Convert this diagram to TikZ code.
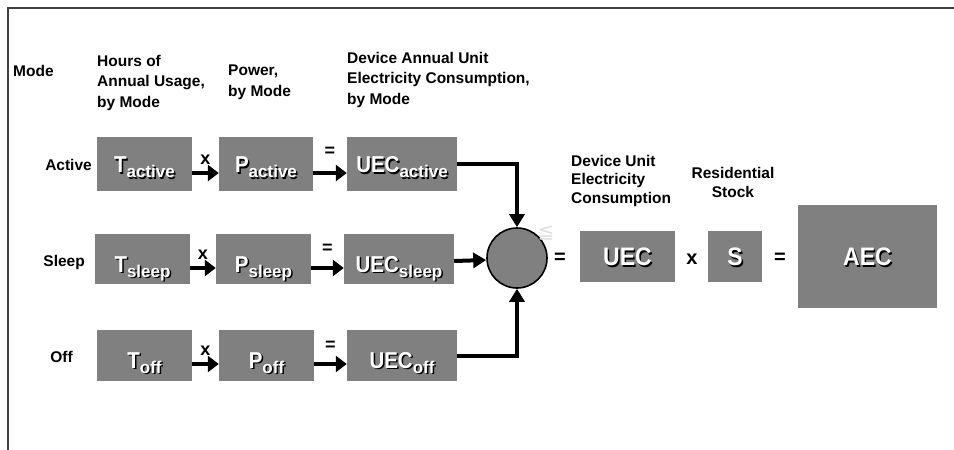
\documentclass[tikz,border=0pt]{standalone}
\usepackage{fontspec}
\setmainfont{Liberation Sans}
\newfontfamily\symfont{DejaVu Sans}
\usetikzlibrary{arrows.meta}
\definecolor{boxgray}{HTML}{808080}
\definecolor{framegray}{HTML}{404040}
\newcommand\shd[1]{\makebox[0pt][l]{\hspace{1.5pt}\raisebox{-1.5pt}{\textcolor{black}{#1}}}#1}
\newcommand\bxt[2]{\scalebox{1}[1.12]{\shd{\fontsize{20.5}{20.5}\selectfont #1}}\raisebox{-5pt}{\shd{\fontsize{17}{17}\selectfont #2}}}
\newcommand\bigt[1]{\scalebox{1}[1.1]{\shd{\fontsize{23}{23}\selectfont #1}}}
\begin{document}
\begin{tikzpicture}[x=1pt,y=-1pt,
  box/.style={fill=boxgray, text=white, font=\bfseries, inner sep=0pt, text depth=0pt},
  hdr/.style={font=\fontsize{15.5}{20.5}\selectfont\bfseries, align=left, inner sep=0pt, anchor=north west},
  rowlbl/.style={font=\fontsize{15.5}{18}\selectfont\bfseries, inner sep=0pt},
  oplbl/.style={font=\fontsize{18}{18}\selectfont\bfseries, inner sep=0pt},
  smallarr/.style={line width=4.5pt, -{Triangle[length=11pt,width=16pt]}},
  conn/.style={line width=4pt, -{Triangle[length=13pt,width=15pt]}},
]
\useasboundingbox (0,0) rectangle (954,450);
% frame
\draw[framegray, line width=1.6pt] (954,8) -- (8,8) -- (8,450);

% headers
\node[hdr] (hmode) at (13,65.5) {Mode};
\node[hdr] (hhours) at (97,55) {Hours of\\Annual Usage,\\by Mode};
\node[hdr] (hpower) at (228,65) {Power,\\by Mode};
\node[hdr] (hdev) at (347,52) {Device Annual Unit\\Electricity Consumption,\\by Mode};
\node[hdr, align=left, font=\fontsize{15.5}{18.5}\selectfont\bfseries] (hunit) at (571,155) {Device Unit\\Electricity\\Consumption};
\node[hdr, align=center, anchor=north, font=\fontsize{15.5}{19}\selectfont\bfseries] (hres) at (733,167) {Residential\\Stock};

% row labels
\node[rowlbl, anchor=base east] (lact) at (92,170) {Active};
\node[rowlbl, anchor=base east] (lslp) at (85,266) {Sleep};
\node[rowlbl, anchor=base east] (loff) at (73,362) {Off};

% active row
\node[box, minimum width=95pt, minimum height=54pt, text height=17pt] (tA) at (144.5,164) {\bxt{T}{active}};
\node[box, minimum width=94pt, minimum height=54pt, text height=17pt] (pA) at (266,164) {\bxt{P}{active}};
\node[box, minimum width=110pt, minimum height=54pt, text height=17pt] (uA) at (402,164) {\bxt{UEC}{active}};
% sleep row
\node[box, minimum width=95pt, minimum height=50pt, text height=26pt] (tS) at (142.5,259) {\bxt{T}{sleep}};
\node[box, minimum width=95pt, minimum height=50pt, text height=26pt] (pS) at (263.5,259) {\bxt{P}{sleep}};
\node[box, minimum width=110pt, minimum height=50pt, text height=26pt] (uS) at (399,259) {\bxt{UEC}{sleep}};
% off row
\node[box, minimum width=95pt, minimum height=51pt, text height=25pt] (tO) at (144.5,355.5) {\bxt{T}{off}};
\node[box, minimum width=95pt, minimum height=51pt, text height=25pt] (pO) at (266.5,355.5) {\bxt{P}{off}};
\node[box, minimum width=110pt, minimum height=51pt, text height=25pt] (uO) at (402,355.5) {\bxt{UEC}{off}};

% small arrows
\draw[smallarr] ([yshift=-9pt]tA.east) -- node[oplbl, above=6pt]{x} ([yshift=-9pt]pA.west);
\draw[smallarr] ([yshift=-9pt]pA.east) -- node[oplbl, above=14pt]{=} ([yshift=-9pt]uA.west);
\draw[smallarr] ([yshift=-9pt]tS.east) -- node[oplbl, above=6pt]{x} ([yshift=-9pt]pS.west);
\draw[smallarr] ([yshift=-9pt]pS.east) -- node[oplbl, above=12pt]{=} ([yshift=-9pt]uS.west);
\draw[smallarr] ([yshift=-8.5pt]tO.east) -- node[oplbl, above=6pt]{x} ([yshift=-8.5pt]pO.west);
\draw[smallarr] ([yshift=-8.5pt]pO.east) -- node[oplbl, above=11pt]{=} ([yshift=-8.5pt]uO.west);

% sum circle
\node[circle, fill=boxgray, draw=black, line width=1.6pt, minimum size=60pt, inner sep=0pt] (sum) at (517,258) {};
\node[text=gray!25, font=\symfont\fontsize{20}{20}\selectfont, inner sep=0pt] (sig) at (546,233) {≦};

% connectors
\draw[conn] (uA.east) -| (sum.north);
\draw[conn] ([yshift=-2pt]uS.east) -- ([yshift=-2pt]sum.west);
\draw[conn] (uO.east) -| (sum.south);

% right side
\node[oplbl, font=\fontsize{20}{20}\selectfont\bfseries] (eq1) at (560,258) {=};
\node[box, minimum width=95pt, minimum height=51pt, text height=18pt] (uec) at (627.5,256.5) {\bigt{UEC}};
\node[oplbl, font=\fontsize{20}{20}\selectfont\bfseries] (mul) at (692,259) {x};
\node[box, minimum width=54pt, minimum height=51pt, text height=18pt] (stock) at (735,256.5) {\bigt{S}};
\node[oplbl, font=\fontsize{20}{20}\selectfont\bfseries] (eq2) at (780,258) {=};
\node[box, minimum width=139pt, minimum height=103pt, text height=18pt] (aec) at (867.5,256.5) {\bigt{AEC}};
\end{tikzpicture}
\end{document}
